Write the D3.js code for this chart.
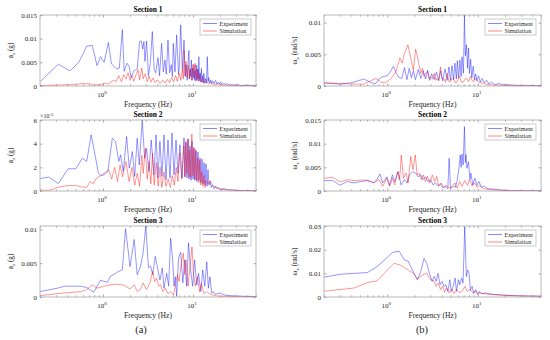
<!DOCTYPE html>
<html><head><meta charset="utf-8">
<script src="https://cdn.jsdelivr.net/npm/d3@7"></script>
<style>
body{margin:0;background:#fff}
text{font-family:"Liberation Serif","Times New Roman",serif}
</style></head><body><svg id="chart" width="550" height="340" font-family="Liberation Serif"></svg>
<script>
var freqDomain = [0.2, 50];
var sections = ["Section 1", "Section 2", "Section 3"];
var seriesNames = ["Experiment", "Simulation"];
var xMajor = [1, 10];
var xMinor = [0.2,0.3,0.4,0.5,0.6,0.7,0.8,0.9,2,3,4,5,6,7,8,9,20,30,40,50];
var azTicks = [[0,0.005,0.01,0.015],[0,0.002,0.004,0.006],[0,0.005,0.01]];
var azMax = [0.015, 0.006, 0.0105];
var wxTicks = [[0,0.005,0.01],[0,0.005,0.01,0.015],[0,0.01,0.02,0.03]];
var wxMax = [0.0112, 0.015, 0.03];

// (a) vertical acceleration a_z (g)
var azExp1 = [[0.2,0.0009],[0.32,0.0046],[0.43,0.0032],[0.54,0.005],[0.66,0.0084],[0.76,0.0086],[0.86,0.0043],[0.94,0.0062],[1.03,0.005],[1.15,0.0092],[1.24,0.0047],[1.42,0.0036],[1.52,0.0038],[1.64,0.0119],[1.72,0.0031],[1.85,0.0048],[1.95,0.0042],[2.05,0.0018],[2.2,0.0032],[2.4,0.0036],[2.55,0.0094],[2.67,0.0095],[2.76,0.0078],[2.85,0.0094],[2.93,0.0052],[3.05,0.0095],[3.2,0.0022],[3.35,0.0048],[3.53,0.0115],[3.7,0.0035],[3.85,0.0028],[4.08,0.006],[4.25,0.0022],[4.48,0.009],[4.68,0.003],[4.88,0.0055],[5.05,0.0025],[5.27,0.0097],[5.5,0.0028],[5.74,0.0045],[5.9,0.002],[6.04,0.009],[6.3,0.003],[6.58,0.0108],[6.9,0.0025],[7.05,0.004],[7.29,0.0129],[7.6,0.0035],[7.94,0.0097],[8.2,0.002],[8.35,0.0045],[8.5,0.0037],[8.62,0.0012],[8.75,0.0042],[9.0,0.0075],[9.15,0.0015],[9.3,0.0035],[9.45,0.002],[9.57,0.0055],[9.75,0.0012],[9.9,0.0038],[10.1,0.0018],[10.26,0.0045],[10.45,0.0012],[10.6,0.0034],[10.8,0.001],[10.97,0.0044],[11.15,0.0012],[11.3,0.0036],[11.45,0.0015],[11.6,0.0062],[11.8,0.0011],[12.0,0.0028],[12.2,0.0009],[12.4,0.0037],[12.6,0.0008],[12.8,0.0022],[13.0,0.0007],[13.2,0.0027],[13.5,0.0006],[13.8,0.0016],[14.1,0.0006],[14.4,0.0062],[14.7,0.0009],[14.9,0.0018],[15.3,0.0006],[15.7,0.0013],[16.1,0.0005],[16.5,0.0011],[17.1,0.0005],[17.8,0.0012],[18.4,0.0004],[19,0.0008],[19.7,0.0004],[20.3,0.0009],[21.2,0.0003],[22,0.0006],[23,0.0003],[24,0.0005],[25.5,0.0002],[27,0.0003],[29,0.0002],[31,0.0003],[34,0.0001],[38,0.0002],[42,0.0001],[46,0.00015],[50,0.0001]];
var azSim1 = [[0.2,0.0001],[0.3,0.0002],[0.45,0.0003],[0.6,0.0005],[0.7,0.0005],[0.8,0.0002],[0.95,0.0003],[1.05,0.0006],[1.15,0.0004],[1.3,0.0012],[1.4,0.001],[1.5,0.0022],[1.6,0.0009],[1.7,0.0024],[1.8,0.0015],[1.9,0.0028],[2.0,0.0012],[2.1,0.0022],[2.2,0.001],[2.35,0.0026],[2.45,0.0034],[2.55,0.0013],[2.7,0.0038],[2.8,0.0015],[2.95,0.0026],[3.1,0.0009],[3.25,0.0021],[3.4,0.0008],[3.6,0.0017],[3.8,0.0007],[4.0,0.0013],[4.3,0.0005],[4.6,0.0012],[4.9,0.0006],[5.2,0.0014],[5.5,0.0007],[5.8,0.0018],[6.1,0.0009],[6.4,0.0022],[6.7,0.001],[7.0,0.0027],[7.3,0.0012],[7.6,0.0035],[7.8,0.0015],[7.95,0.0076],[8.15,0.0022],[8.35,0.0052],[8.6,0.0018],[8.85,0.0044],[9.1,0.0015],[9.4,0.0037],[9.7,0.0012],[10.0,0.0046],[10.3,0.0016],[10.6,0.0048],[10.9,0.0014],[11.2,0.0035],[11.5,0.001],[11.9,0.0025],[12.3,0.0008],[12.8,0.0016],[13.3,0.0005],[14,0.001],[14.8,0.0004],[15.6,0.0007],[17,0.0003],[19,0.0004],[22,0.0002],[27,0.0001],[35,0.0001],[50,0.00005]];
var azExp2 = [[0.2,0.00104],[0.25,0.00118],[0.32,0.00062],[0.41,0.00188],[0.5,0.00188],[0.59,0.00277],[0.66,0.0025],[0.74,0.00474],[0.83,0.00277],[0.89,0.0015],[0.96,0.0013],[1.03,0.00137],[1.135,0.00165],[1.27,0.00446],[1.38,0.00418],[1.5,0.0025],[1.57,0.00305],[1.68,0.00165],[1.83,0.0046],[1.96,0.00193],[2.12,0.00334],[2.25,0.00123],[2.4,0.00446],[2.53,0.0022],[2.73,0.006],[2.9,0.00277],[3.05,0.0036],[3.24,0.00165],[3.44,0.0043],[3.68,0.00137],[3.88,0.00474],[4.08,0.0011],[4.29,0.0042],[4.52,0.00123],[4.76,0.00474],[5.01,0.00095],[5.27,0.0043],[5.55,0.0011],[5.84,0.0049],[6.15,0.00137],[6.47,0.0043],[6.81,0.0015],[7.16,0.0039],[7.54,0.0011],[7.94,0.0045],[8.15,0.0012],[8.35,0.0041],[8.57,0.0011],[8.79,0.0044],[9.02,0.001],[9.25,0.0038],[9.5,0.0009],[9.74,0.0042],[10.0,0.001],[10.25,0.0036],[10.5,0.0009],[10.79,0.0034],[11.05,0.0008],[11.35,0.0033],[11.65,0.0009],[11.95,0.0028],[12.25,0.0007],[12.58,0.0027],[12.9,0.0006],[13.24,0.0024],[13.6,0.0005],[13.93,0.0023],[14.3,0.0004],[14.66,0.0018],[15.05,0.0005],[15.44,0.0008],[15.9,0.0003],[16.4,0.0005],[17.1,0.0002],[17.8,0.0004],[18.4,0.0002],[19,0.0003],[20.3,0.00015],[22,0.0002],[24,0.0001],[27,0.0001],[31,0.00005],[40,0.00003],[50,0.00002]];
var azSim2 = [[0.2,0.00008],[0.25,0.00005],[0.31,0.0003],[0.4,0.00045],[0.5,0.00048],[0.56,0.00036],[0.66,0.0003],[0.72,0.0008],[0.78,0.0006],[0.85,0.0011],[0.94,0.0013],[1.03,0.0015],[1.15,0.0018],[1.25,0.001],[1.35,0.002],[1.45,0.0008],[1.55,0.0022],[1.65,0.0012],[1.8,0.0025],[1.95,0.0008],[2.1,0.002],[2.25,0.0005],[2.4,0.0015],[2.55,0.0004],[2.7,0.003],[2.8,0.0015],[2.95,0.0036],[3.1,0.001],[3.25,0.0025],[3.4,0.0006],[3.55,0.0032],[3.7,0.0005],[3.9,0.0024],[4.1,0.0004],[4.3,0.002],[4.5,0.0003],[4.75,0.0016],[5.0,0.0004],[5.3,0.001],[5.6,0.0003],[5.9,0.0013],[6.2,0.0005],[6.5,0.002],[6.8,0.0008],[7.1,0.0032],[7.5,0.001],[7.9,0.0038],[8.1,0.0012],[8.3,0.0042],[8.55,0.0015],[8.8,0.0044],[9.0,0.0012],[9.2,0.0035],[9.45,0.0011],[9.7,0.0048],[9.95,0.0013],[10.2,0.0037],[10.45,0.001],[10.7,0.0035],[11.0,0.0009],[11.3,0.0028],[11.6,0.0007],[11.9,0.0026],[12.2,0.0005],[12.5,0.0016],[12.9,0.0004],[13.2,0.0013],[13.6,0.0003],[13.9,0.0009],[14.7,0.0006],[15.4,0.0009],[16.4,0.0005],[17.8,0.0003],[20,0.00015],[25,0.00008],[30,0.00005],[50,0.00002]];
var azExp3 = [[0.2,0.0008],[0.31,0.0013],[0.38,0.0016],[0.57,0.0016],[0.66,0.0014],[0.79,0.0007],[0.94,0.0025],[1.03,0.0023],[1.12,0.0022],[1.22,0.0031],[1.35,0.0034],[1.5,0.0038],[1.64,0.004],[1.78,0.0101],[2.0,0.0045],[2.22,0.0085],[2.4,0.0033],[2.61,0.0045],[2.79,0.0065],[2.99,0.0105],[3.2,0.0043],[3.38,0.0046],[3.56,0.0033],[3.81,0.006],[4.08,0.004],[4.29,0.0025],[4.56,0.0043],[4.76,0.0013],[5.1,0.0035],[5.36,0.0016],[5.64,0.0087],[5.94,0.0055],[6.15,0.0016],[6.36,0.003],[6.58,0.0001],[6.9,0.0057],[7.29,0.0066],[7.7,0.0021],[8.1,0.0055],[8.5,0.0016],[8.9,0.008],[9.4,0.004],[9.9,0.0016],[10.4,0.0055],[11.0,0.0018],[11.5,0.0035],[12.2,0.0008],[12.8,0.004],[13.5,0.0016],[14.2,0.0052],[14.8,0.0013],[15.4,0.003],[16.1,0.0006],[16.8,0.0008],[17.6,0.0004],[18.6,0.0005],[20,0.0006],[22,0.0003],[26,0.0002],[31,0.00015],[40,0.0001],[50,0.00005]];
var azSim3 = [[0.2,0.0002],[0.31,0.0005],[0.57,0.0008],[0.66,0.0011],[0.76,0.0018],[0.86,0.0013],[1.03,0.0016],[1.22,0.0018],[1.44,0.0019],[1.64,0.0018],[1.78,0.0016],[2.0,0.0012],[2.22,0.0018],[2.4,0.0008],[2.61,0.0011],[2.79,0.0021],[3.05,0.0011],[3.33,0.0021],[3.56,0.0038],[3.74,0.0023],[3.94,0.0028],[4.15,0.0016],[4.36,0.0018],[4.6,0.0008],[4.93,0.0013],[5.27,0.0005],[5.64,0.0008],[6.05,0.0003],[6.36,0.0016],[6.7,0.0033],[7.0,0.0023],[7.4,0.005],[7.8,0.0065],[8.1,0.0033],[8.35,0.0055],[8.8,0.0016],[9.25,0.0045],[9.74,0.0074],[10.1,0.0035],[10.6,0.0016],[11.2,0.003],[11.8,0.0008],[12.4,0.002],[13.2,0.0005],[14.2,0.0008],[15.2,0.0005],[16.4,0.0003],[18.6,0.00015],[30,0.00005],[50,0.00005]];

// (b) roll rate w_x (rad/s)
var wxExp1 = [[0.2,0.0005],[0.3,0.0003],[0.4,0.0005],[0.55,0.0011],[0.67,0.0005],[0.75,0.0004],[0.82,0.0012],[0.9,0.0015],[1.0,0.0016],[1.08,0.0022],[1.17,0.0031],[1.26,0.002],[1.34,0.0014],[1.45,0.0012],[1.55,0.0029],[1.65,0.001],[1.75,0.0028],[1.85,0.0013],[1.95,0.0024],[2.05,0.001],[2.2,0.0026],[2.35,0.0012],[2.5,0.0024],[2.65,0.0011],[2.8,0.0025],[2.95,0.0009],[3.1,0.0019],[3.3,0.001],[3.5,0.0022],[3.7,0.0009],[3.9,0.0024],[4.1,0.0008],[4.35,0.0027],[4.6,0.0009],[4.8,0.003],[5.0,0.0009],[5.2,0.0032],[5.4,0.001],[5.6,0.0036],[5.8,0.0011],[5.95,0.004],[6.15,0.0013],[6.35,0.0041],[6.55,0.0015],[6.7,0.0046],[6.95,0.002],[7.13,0.0112],[7.3,0.0048],[7.5,0.0065],[7.7,0.0028],[7.9,0.006],[8.1,0.002],[8.35,0.0042],[8.6,0.0013],[8.9,0.0031],[9.2,0.001],[9.5,0.0019],[9.8,0.0008],[10.2,0.0016],[10.7,0.0006],[11.2,0.0012],[11.8,0.0005],[12.5,0.0009],[13.3,0.0003],[14.2,0.0006],[15.5,0.0002],[17,0.0004],[19,0.0002],[22,0.0002],[27,0.0001],[35,0.0001],[50,0.00005]];
var wxSim1 = [[0.2,0.0005],[0.3,0.0004],[0.45,0.0003],[0.55,0.0003],[0.65,0.0008],[0.75,0.0012],[0.85,0.0006],[0.95,0.0005],[1.05,0.0009],[1.15,0.0015],[1.25,0.0023],[1.32,0.0035],[1.38,0.0044],[1.46,0.0036],[1.55,0.0052],[1.62,0.0058],[1.69,0.0065],[1.75,0.0055],[1.81,0.0046],[1.94,0.0025],[2.06,0.0058],[2.2,0.0041],[2.34,0.002],[2.45,0.0028],[2.55,0.0015],[2.66,0.002],[2.78,0.0023],[2.9,0.0012],[3.0,0.0015],[3.15,0.0011],[3.3,0.002],[3.45,0.0009],[3.55,0.0012],[3.7,0.0008],[3.87,0.003],[4.0,0.0012],[4.2,0.0012],[4.4,0.0006],[4.6,0.002],[4.8,0.0007],[5.0,0.0007],[5.2,0.0012],[5.4,0.0012],[5.65,0.0005],[5.9,0.0006],[6.1,0.0011],[6.3,0.0015],[6.6,0.0006],[7.0,0.0007],[7.3,0.0012],[7.6,0.0011],[7.9,0.0007],[8.3,0.0015],[8.7,0.0008],[9.0,0.0007],[9.4,0.0012],[9.8,0.0009],[10.3,0.0006],[10.7,0.0005],[11.5,0.0004],[12.2,0.0003],[13.5,0.0002],[15,0.00015],[19.4,0.0001],[30,0.00005],[50,0.00003]];
var wxExp2 = [[0.2,0.0022],[0.25,0.0022],[0.3,0.0012],[0.36,0.002],[0.43,0.0017],[0.51,0.002],[0.6,0.0022],[0.71,0.0018],[0.77,0.0024],[0.83,0.0036],[0.89,0.0017],[0.99,0.003],[1.06,0.0012],[1.14,0.0034],[1.21,0.002],[1.32,0.0041],[1.42,0.0013],[1.55,0.0024],[1.66,0.0017],[1.76,0.0034],[1.92,0.0041],[2.06,0.0038],[2.19,0.003],[2.34,0.0034],[2.48,0.0024],[2.64,0.003],[2.82,0.002],[3.02,0.0024],[3.2,0.0013],[3.4,0.0017],[3.63,0.001],[3.88,0.0015],[4.1,0.0006],[4.37,0.001],[4.67,0.0005],[4.83,0.0069],[5.0,0.0005],[5.4,0.001],[5.65,0.0008],[5.9,0.002],[6.2,0.0048],[6.4,0.0076],[6.55,0.005],[6.7,0.0078],[6.9,0.0055],[7.13,0.0136],[7.3,0.006],[7.4,0.0077],[7.6,0.0048],[7.9,0.0062],[8.2,0.0024],[8.4,0.0038],[8.8,0.0013],[9.3,0.0027],[9.8,0.0012],[10.3,0.002],[11.0,0.0008],[11.8,0.001],[12.9,0.0005],[14.6,0.0004],[16.5,0.0003],[18.3,0.0002],[23.6,0.0001],[35,0.00005],[50,0.00003]];
var wxSim2 = [[0.2,0.0027],[0.25,0.0029],[0.3,0.0019],[0.36,0.0024],[0.43,0.0022],[0.51,0.0023],[0.6,0.0023],[0.71,0.0017],[0.81,0.0024],[0.89,0.001],[0.99,0.0027],[1.06,0.001],[1.14,0.0027],[1.21,0.0013],[1.3,0.0041],[1.37,0.0024],[1.43,0.0076],[1.51,0.0027],[1.61,0.0038],[1.7,0.0017],[1.82,0.0073],[1.92,0.0045],[2.04,0.0076],[2.14,0.0034],[2.26,0.0038],[2.38,0.0024],[2.5,0.0034],[2.64,0.002],[2.78,0.0031],[2.96,0.0017],[3.14,0.0034],[3.35,0.002],[3.52,0.0031],[3.7,0.0011],[3.94,0.0017],[4.2,0.0008],[4.5,0.0012],[4.85,0.0006],[5.2,0.001],[5.6,0.0017],[5.9,0.0006],[6.3,0.002],[6.7,0.001],[7.2,0.0022],[7.7,0.0012],[8.1,0.0024],[8.7,0.001],[9.2,0.0017],[9.8,0.0008],[10.5,0.0012],[11.5,0.0005],[13.2,0.0003],[18,0.00015],[30,0.00005],[50,0.00003]];
var wxExp3 = [[0.2,0.0084],[0.3,0.0096],[0.43,0.01],[0.6,0.0103],[0.77,0.0128],[1.0,0.0167],[1.14,0.0188],[1.35,0.0194],[1.55,0.0156],[1.7,0.0152],[1.82,0.0128],[1.98,0.01],[2.15,0.0073],[2.34,0.0107],[2.55,0.0163],[2.73,0.0142],[2.92,0.01],[3.13,0.0066],[3.3,0.0087],[3.47,0.0066],[3.64,0.01],[3.83,0.0052],[4.03,0.0066],[4.23,0.0045],[4.45,0.0052],[4.68,0.0024],[4.92,0.0073],[5.09,0.0024],[5.35,0.0045],[5.62,0.008],[5.82,0.0024],[6.12,0.0073],[6.33,0.0052],[6.65,0.008],[6.88,0.0059],[7.18,0.0296],[7.49,0.0087],[7.75,0.0114],[8.02,0.01],[8.3,0.0028],[8.66,0.0045],[9.03,0.0014],[9.5,0.0031],[9.98,0.001],[10.5,0.0024],[11.1,0.0014],[12.1,0.0017],[13.7,0.0013],[16.3,0.001],[22.6,0.0006],[31,0.0004],[47,0.0003],[50,0.0003]];
var wxSim3 = [[0.2,0.0024],[0.43,0.0038],[0.6,0.0061],[0.77,0.0068],[1.0,0.0114],[1.19,0.0142],[1.4,0.0135],[1.7,0.0114],[1.95,0.01],[2.15,0.0075],[2.43,0.0093],[2.73,0.01],[3.03,0.0072],[3.24,0.007],[3.47,0.0045],[3.64,0.0059],[3.9,0.0031],[4.1,0.0045],[4.3,0.002],[4.5,0.0038],[4.84,0.0017],[5.17,0.0034],[5.45,0.0014],[5.82,0.0031],[6.33,0.0017],[6.78,0.0028],[7.26,0.0045],[7.62,0.0024],[8.15,0.0031],[8.73,0.002],[9.43,0.0024],[10.3,0.0017],[11.6,0.0014],[13.7,0.0011],[17.5,0.0008],[24.5,0.0006],[47,0.0004],[50,0.0004]];

var colors = ["#0000ff", "#ff0000"];
var serif = "Liberation Serif";
var axisGray = "#a8a8a8", textGray = "#262626";

var svg = d3.select("#chart");
var cols = [[40, 256], [324, 541]];
var rows = [[15, 86], [120, 191], [226, 297]];
var labelX = [13, 297];

var azSeries = [[azExp1, azSim1], [azExp2, azSim2], [azExp3, azSim3]];
var wxSeries = [[wxExp1, wxSim1], [wxExp2, wxSim2], [wxExp3, wxSim3]];

for (var r = 0; r < 3; r++) {
  panel(0, r, azMax[r], azTicks[r], azSeries[r], "az");
  panel(1, r, wxMax[r], wxTicks[r], wxSeries[r], "wx");
}

svg.append("text").attr("x", 141).attr("y", 333).attr("text-anchor", "middle").attr("font-family", serif)
  .attr("font-size", 10.5).attr("fill", textGray).text("(a)");
svg.append("text").attr("x", 422).attr("y", 333).attr("text-anchor", "middle").attr("font-family", serif)
  .attr("font-size", 10.5).attr("fill", textGray).text("(b)");

function panel(c, r, ymax, ticks, series, kind) {
  var left = cols[c][0], right = cols[c][1], top = rows[r][0], bottom = rows[r][1];
  var x = d3.scaleLog().domain(freqDomain).range([left, right]);
  var y = d3.scaleLinear().domain([0, ymax]).range([bottom, top]);
  var g = svg.append("g").attr("font-family", serif);
  var clipId = "clip" + c + r;

  g.append("clipPath").attr("id", clipId).append("rect")
    .attr("x", left).attr("y", top).attr("width", right - left).attr("height", bottom - top);

  var scaled = (kind == "az" && r == 1);
  var fmt = function(d){ return scaled ? String(Math.round(d / 1e-3)) : (d == 0 ? "0" : d3.format("~g")(d)); };

  // ticks, inward like matlab
  var axes = [
    [d3.axisBottom(x).tickValues(xMajor).tickSize(-2.5), bottom],
    [d3.axisBottom(x).tickValues(xMinor).tickSize(-1.6), bottom],
    [d3.axisTop(x).tickValues(xMajor).tickSize(-2.5), top],
    [d3.axisTop(x).tickValues(xMinor).tickSize(-1.6), top]
  ];
  axes.forEach(function(a){
    g.append("g").attr("transform", "translate(0," + a[1] + ")")
      .call(a[0].tickFormat(""))
      .call(function(s){ s.select(".domain").remove(); s.selectAll("line").attr("stroke", axisGray); });
  });
  g.append("g").attr("transform", "translate(" + left + ",0)")
    .call(d3.axisLeft(y).tickValues(ticks).tickSize(-2.5).tickPadding(3).tickFormat(fmt))
    .call(function(s){
      s.attr("font-family", serif);
      s.select(".domain").remove();
      s.selectAll("line").attr("stroke", axisGray);
      s.selectAll("text").attr("font-family", serif).attr("font-size", 7).attr("fill", textGray);
    });
  g.append("g").attr("transform", "translate(" + right + ",0)")
    .call(d3.axisRight(y).tickValues(ticks).tickSize(-2.5).tickFormat(""))
    .call(function(s){ s.select(".domain").remove(); s.selectAll("line").attr("stroke", axisGray); });

  // log tick labels
  xMajor.forEach(function(v, i){
    var t = g.append("text").attr("x", x(v) - 1).attr("y", bottom + 11)
      .attr("text-anchor", "middle").attr("font-size", 7).attr("fill", textGray);
    t.append("tspan").text("10");
    t.append("tspan").attr("dy", -3).attr("font-size", 5).text(String(i));
  });

  if (scaled) {
    var s = g.append("text").attr("x", left).attr("y", top - 2).attr("font-size", 6).attr("fill", textGray);
    s.append("tspan").text("\u00d710");
    s.append("tspan").attr("dy", -2.5).attr("font-size", 4.5).text("-3");
  }

  // series lines
  var line = d3.line().x(function(d){ return x(d[0]); }).y(function(d){ return y(d[1]); });
  series.forEach(function(data, i){
    g.append("path").datum(data).attr("d", line)
      .attr("clip-path", "url(#" + clipId + ")")
      .attr("fill", "none").attr("stroke", colors[i]).attr("stroke-opacity", 0.55)
      .attr("stroke-width", 0.75).attr("stroke-linejoin", "round");
  });

  g.append("rect").attr("x", left).attr("y", top).attr("width", right - left).attr("height", bottom - top)
    .attr("fill", "none").attr("stroke", axisGray).attr("stroke-width", 0.8);

  // title and labels
  g.append("text").attr("x", (left + right) / 2).attr("y", top - 3).attr("text-anchor", "middle")
    .attr("font-size", 7.5).attr("font-weight", "bold").attr("fill", "#000").text(sections[r]);
  g.append("text").attr("x", (left + right) / 2).attr("y", bottom + 21).attr("text-anchor", "middle")
    .attr("font-size", 7.6).attr("fill", textGray).text("Frequency (Hz)");

  var yl = g.append("text").attr("transform", "translate(" + labelX[c] + "," + ((top + bottom) / 2) + ") rotate(-90)")
    .attr("text-anchor", "middle").attr("font-size", 7.2).attr("fill", textGray);
  if (kind == "az") {
    yl.append("tspan").text("a");
    yl.append("tspan").attr("dy", 2).attr("font-size", 5).text("z");
    yl.append("tspan").attr("dy", -2).text(" (g)");
  } else {
    yl.append("tspan").text("\u03c9");
    yl.append("tspan").attr("dy", 2).attr("font-size", 5).text("x");
    yl.append("tspan").attr("dy", -2).text(" (rad/s)");
  }

  // legend
  var lx = right - 56, ly = top + 4;
  var lg = g.append("g");
  lg.append("rect").attr("x", lx).attr("y", ly).attr("width", 51).attr("height", 16)
    .attr("fill", "#fff").attr("stroke", axisGray).attr("stroke-width", 0.6);
  seriesNames.forEach(function(name, i){
    var yy = ly + 4.5 + i * 7.5;
    lg.append("line").attr("x1", lx + 3).attr("x2", lx + 17).attr("y1", yy).attr("y2", yy)
      .attr("stroke", colors[i]).attr("stroke-opacity", 0.6).attr("stroke-width", 0.8);
    lg.append("text").attr("x", lx + 19.5).attr("y", yy + 2).attr("font-size", 6.1)
      .attr("fill", textGray).text(name);
  });
}
</script></body></html>
